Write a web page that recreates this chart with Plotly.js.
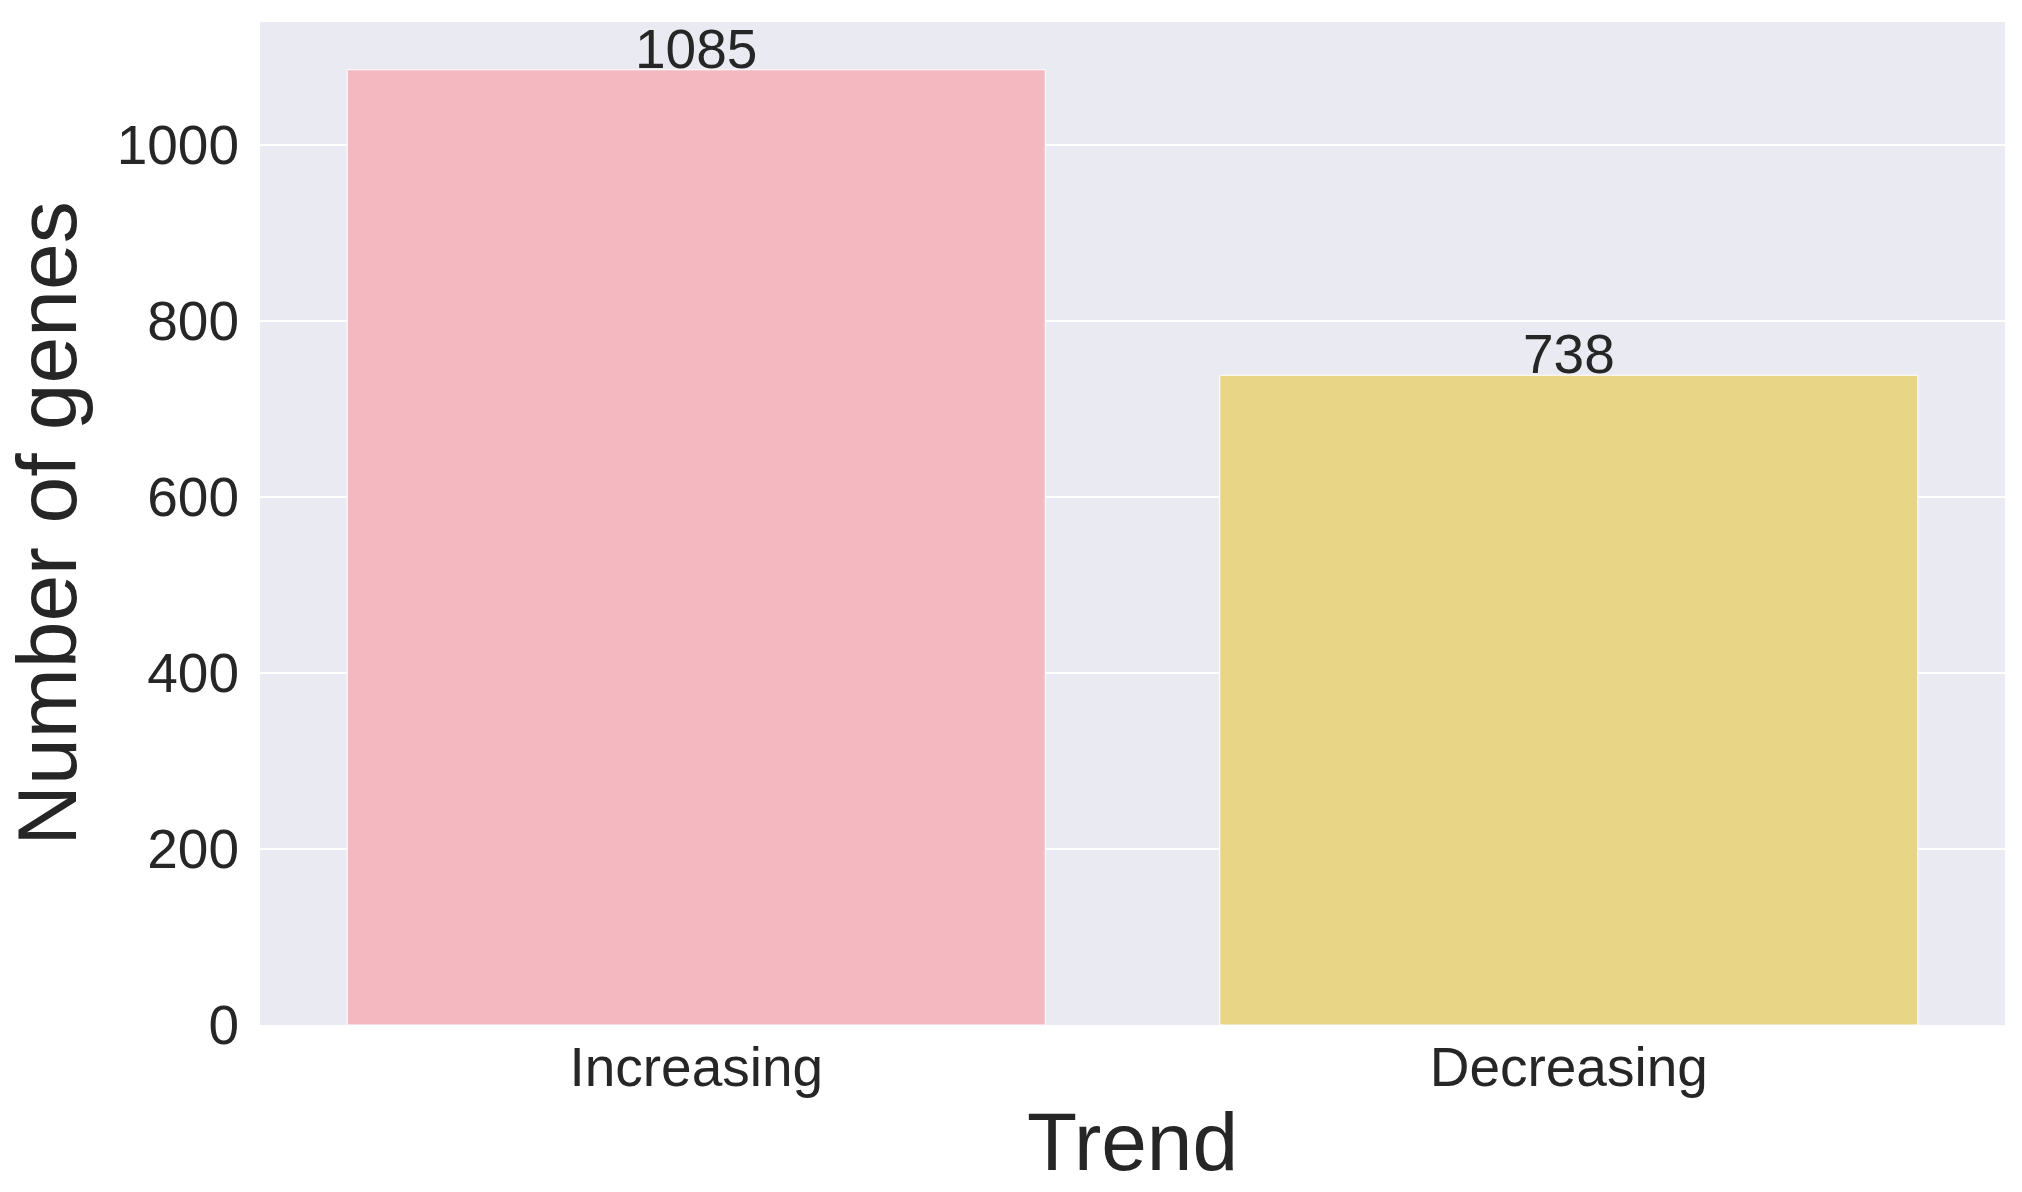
<!DOCTYPE html>
<html>
<head>
<meta charset="utf-8">
<script src="https://cdn.plot.ly/plotly-3.0.1.min.js"></script>
<style>
  html, body { margin: 0; padding: 0; background: #fff; }
  #plot { width: 2022px; height: 1192px; }
</style>
</head>
<body>
<div id="plot"></div>
<script>
// counts per trend
const trends = ['Increasing', 'Decreasing'];
const geneCounts = [1085, 738];
const barColors = ['#f4b9c0', '#e9d586'];
const yTicks = [0, 200, 400, 600, 800, 1000];

const txtColor = '#262626';
const fontFam = 'Arial, "Liberation Sans", sans-serif';

const data = [{
  type: 'bar',
  x: trends,
  y: geneCounts,
  width: 0.8,
  marker: { color: barColors, line: { color: '#ffffff', width: 1 } },
  hoverinfo: 'x+y'
}];

// value labels sitting on the bar tops
const notes = trends.map((t, i) => ({
  x: t, y: geneCounts[i], text: String(geneCounts[i]),
  xref: 'x', yref: 'y', showarrow: false,
  yanchor: 'bottom', yshift: -12,
  font: { size: 55, color: txtColor, family: fontFam }
}));

const layout = {
  width: 2022, height: 1192,
  margin: { l: 260, r: 17, t: 22, b: 167 },
  paper_bgcolor: '#ffffff',
  plot_bgcolor: '#eaeaf2',
  showlegend: false,
  font: { family: fontFam, color: txtColor },
  xaxis: {
    type: 'category',
    range: [-0.5, 1.5],
    showgrid: false, zeroline: false, showline: false,
    ticks: '', ticklabelstandoff: 5,
    tickfont: { size: 55, color: txtColor },
    title: { text: 'Trend', font: { size: 82, color: txtColor }, standoff: 15 }
  },
  yaxis: {
    range: [0, 1139.25],
    tickvals: yTicks,
    gridcolor: '#ffffff', gridwidth: 2,
    zeroline: false, showline: false,
    ticks: 'outside', ticklen: 9, tickcolor: 'rgba(0,0,0,0)',
    tickfont: { size: 55, color: txtColor },
    title: { text: 'Number of genes', font: { size: 84, color: txtColor }, standoff: 26 }
  },
  annotations: notes,
  bargap: 0.2
};

Plotly.newPlot('plot', data, layout, { displayModeBar: false, staticPlot: true });
</script>
</body>
</html>
